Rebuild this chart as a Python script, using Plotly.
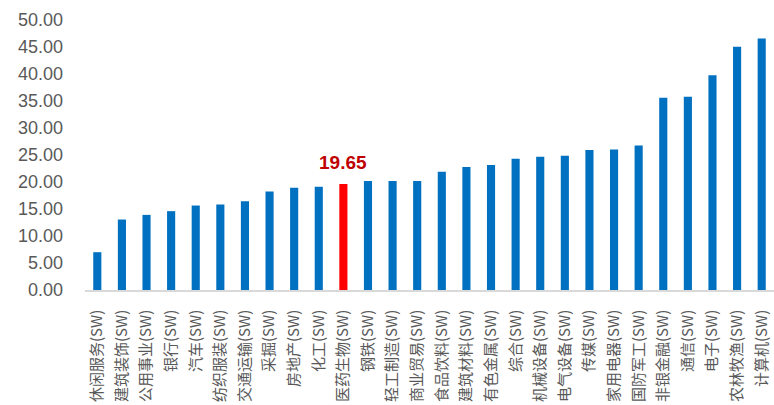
import plotly.graph_objects as go

# Industry names (SW classification) and their values
categories = [
    "休闲服务(SW)", "建筑装饰(SW)", "公用事业(SW)", "银行(SW)", "汽车(SW)",
    "纺织服装(SW)", "交通运输(SW)", "采掘(SW)", "房地产(SW)", "化工(SW)",
    "医药生物(SW)", "钢铁(SW)", "轻工制造(SW)", "商业贸易(SW)", "食品饮料(SW)",
    "建筑材料(SW)", "有色金属(SW)", "综合(SW)", "机械设备(SW)", "电气设备(SW)",
    "传媒(SW)", "家用电器(SW)", "国防军工(SW)", "非银金融(SW)", "通信(SW)",
    "电子(SW)", "农林牧渔(SW)", "计算机(SW)",
]
values = [
    7.00, 13.05, 13.91, 14.60, 15.64,
    15.83, 16.45, 18.24, 18.92, 19.11,
    19.65, 20.17, 20.17, 20.17, 21.88,
    22.76, 23.13, 24.30, 24.67, 24.86,
    25.91, 26.03, 26.78, 35.62, 35.80,
    39.76, 45.03, 46.57,
]
highlight = "医药生物(SW)"
y_ticks = [0, 5, 10, 15, 20, 25, 30, 35, 40, 45, 50]

BLUE = "#0070C0"
RED = "#FF0000"
colors = [RED if c == highlight else BLUE for c in categories]
hi_idx = categories.index(highlight)

fig = go.Figure(
    go.Bar(
        x=categories,
        y=values,
        marker=dict(color=colors, line=dict(width=0)),
        width=0.33,
    )
)

fig.add_annotation(
    x=categories[hi_idx],
    y=values[hi_idx],
    text=f"{values[hi_idx]:.2f}",
    showarrow=False,
    yanchor="bottom",
    yshift=9,
    font=dict(family="Liberation Sans, Arial", size=19, color="#C00000", weight="bold"),
)

fig.update_layout(
    width=774,
    height=405,
    margin=dict(l=85, r=0, t=20, b=115),
    paper_bgcolor="white",
    plot_bgcolor="white",
    showlegend=False,
    xaxis=dict(
        type="category",
        range=[-0.5, len(categories) - 0.5],
        tickangle=-90,
        showline=True,
        linecolor="#D9D9D9",
        linewidth=1.5,
        showgrid=False,
        ticks="",
        ticklabelstandoff=12,
        tickfont=dict(family="Noto Sans CJK SC", size=15, color="#595959"),
    ),
    yaxis=dict(
        range=[0, 50],
        tickvals=y_ticks,
        ticktext=[f"{v:.2f}" for v in y_ticks],
        showline=False,
        showgrid=False,
        zeroline=False,
        ticks="",
        ticklabelstandoff=21,
        tickfont=dict(family="Liberation Sans, Arial", size=18, color="#595959"),
    ),
)

fig.write_html("out.html")
